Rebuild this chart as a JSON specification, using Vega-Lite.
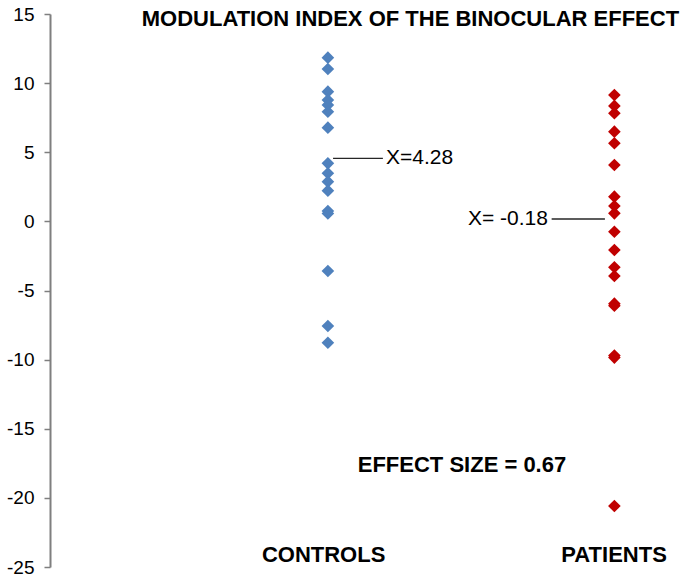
{
  "$schema": "https://vega.github.io/schema/vega-lite/v6.json",
  "description": "Modulation index of the binocular effect, controls vs patients",
  "autosize": "none",
  "padding": {"left": 50, "top": 14, "right": 0, "bottom": 12},
  "width": 636,
  "height": 553,
  "encoding": {
    "x": {
      "field": "pos",
      "type": "quantitative",
      "scale": {"domain": [0.03, 2.25], "nice": false, "zero": false},
      "axis": null
    },
    "y": {
      "field": "value",
      "type": "quantitative",
      "scale": {"domain": [-25, 15], "nice": false, "zero": false},
      "axis": {
        "title": null,
        "values": [-25, -20, -15, -10, -5, 0, 5, 10, 15],
        "labelExpr": "toString(datum.value)",
        "grid": false,
        "domainColor": "#7F7F7F",
        "domainWidth": 2,
        "tickColor": "#7F7F7F",
        "tickWidth": 1.5,
        "tickSize": 6,
        "labelFont": "Liberation Sans",
        "labelFontSize": 19,
        "labelColor": "#000000",
        "labelPadding": 10
      }
    }
  },
  "layer": [
    {
      "data": {
        "values": [
          {"group": "CONTROLS", "pos": 1, "value": 11.84},
          {"group": "CONTROLS", "pos": 1, "value": 11.02},
          {"group": "CONTROLS", "pos": 1, "value": 9.38},
          {"group": "CONTROLS", "pos": 1, "value": 8.78},
          {"group": "CONTROLS", "pos": 1, "value": 8.42},
          {"group": "CONTROLS", "pos": 1, "value": 7.93},
          {"group": "CONTROLS", "pos": 1, "value": 6.78},
          {"group": "CONTROLS", "pos": 1, "value": 4.2},
          {"group": "CONTROLS", "pos": 1, "value": 3.48},
          {"group": "CONTROLS", "pos": 1, "value": 2.87},
          {"group": "CONTROLS", "pos": 1, "value": 2.22},
          {"group": "CONTROLS", "pos": 1, "value": 0.75},
          {"group": "CONTROLS", "pos": 1, "value": 0.57},
          {"group": "CONTROLS", "pos": 1, "value": -3.59},
          {"group": "CONTROLS", "pos": 1, "value": -7.57},
          {"group": "CONTROLS", "pos": 1, "value": -8.78},
          {"group": "PATIENTS", "pos": 2, "value": 9.14},
          {"group": "PATIENTS", "pos": 2, "value": 8.35},
          {"group": "PATIENTS", "pos": 2, "value": 7.82},
          {"group": "PATIENTS", "pos": 2, "value": 6.49},
          {"group": "PATIENTS", "pos": 2, "value": 5.65},
          {"group": "PATIENTS", "pos": 2, "value": 4.08},
          {"group": "PATIENTS", "pos": 2, "value": 1.79},
          {"group": "PATIENTS", "pos": 2, "value": 1.11},
          {"group": "PATIENTS", "pos": 2, "value": 0.58},
          {"group": "PATIENTS", "pos": 2, "value": -0.75},
          {"group": "PATIENTS", "pos": 2, "value": -2.07},
          {"group": "PATIENTS", "pos": 2, "value": -3.32},
          {"group": "PATIENTS", "pos": 2, "value": -3.95},
          {"group": "PATIENTS", "pos": 2, "value": -5.95},
          {"group": "PATIENTS", "pos": 2, "value": -6.1},
          {"group": "PATIENTS", "pos": 2, "value": -9.7},
          {"group": "PATIENTS", "pos": 2, "value": -9.85},
          {"group": "PATIENTS", "pos": 2, "value": -20.59}
        ]
      },
      "mark": {"type": "point", "shape": "diamond", "filled": true, "opacity": 1, "size": 160},
      "encoding": {
        "color": {
          "field": "group",
          "type": "nominal",
          "scale": {"domain": ["CONTROLS", "PATIENTS"], "range": ["#4F81BD", "#C00000"]},
          "legend": null
        }
      }
    },
    {
      "data": {
        "values": [
          {"pos": 1.018, "pos2": 1.192, "value": 4.56},
          {"pos": 1.781, "pos2": 1.967, "value": 0.17}
        ]
      },
      "mark": {"type": "rule", "color": "#262626", "strokeWidth": 1.3},
      "encoding": {
        "x2": {"field": "pos2"}
      }
    },
    {
      "data": {"values": [{"pos": 1.203, "value": 4.56, "label": "X=4.28"}]},
      "mark": {"type": "text", "align": "left", "baseline": "middle", "font": "Liberation Sans", "fontSize": 21, "color": "#000000"},
      "encoding": {"text": {"field": "label"}}
    },
    {
      "data": {"values": [{"pos": 1.768, "value": 0.17, "label": "X= -0.18"}]},
      "mark": {"type": "text", "align": "right", "baseline": "middle", "font": "Liberation Sans", "fontSize": 21, "color": "#000000"},
      "encoding": {"text": {"field": "label"}}
    },
    {
      "data": {
        "values": [
          {"pos": 1.288, "value": 14.64, "label": "MODULATION INDEX OF THE BINOCULAR EFFECT"},
          {"pos": 1.468, "value": -17.59, "label": "EFFECT SIZE = 0.67"},
          {"pos": 0.985, "value": -24.13, "label": "CONTROLS"},
          {"pos": 1.999, "value": -24.13, "label": "PATIENTS"}
        ]
      },
      "mark": {"type": "text", "align": "center", "baseline": "middle", "font": "Liberation Sans", "fontSize": 22, "fontWeight": "bold", "color": "#000000"},
      "encoding": {"text": {"field": "label"}}
    }
  ],
  "config": {
    "view": {"stroke": "transparent"}
  }
}
